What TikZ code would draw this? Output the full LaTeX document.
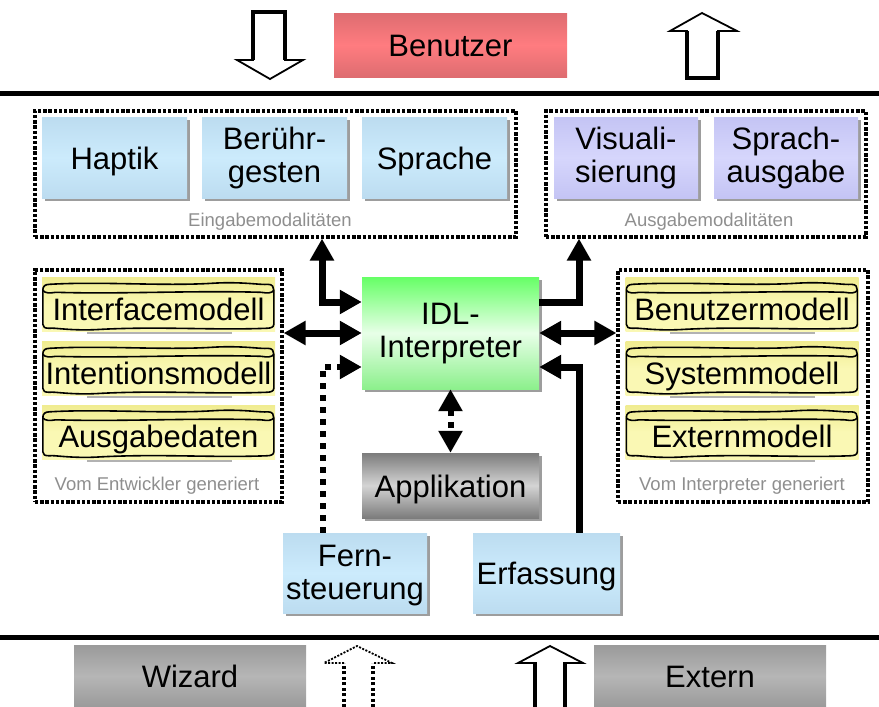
\documentclass[tikz,border=0pt]{standalone}
\usepackage{fontspec}
\setmainfont{Liberation Sans}
\usetikzlibrary{arrows.meta,shadows,calc}
\definecolor{blueE}{HTML}{BCDCF0}
\definecolor{blueM}{HTML}{CCEBFC}
\definecolor{lavE}{HTML}{C4C4F4}
\definecolor{lavM}{HTML}{D6D6FC}
\definecolor{redE}{HTML}{DE6C70}
\definecolor{redM}{HTML}{FF7C80}
\definecolor{grnT}{HTML}{66FF66}
\definecolor{grnM}{HTML}{E8FFE8}
\definecolor{grnB}{HTML}{8CF08C}
\definecolor{grayT}{HTML}{7C7C7C}
\definecolor{grayM}{HTML}{D4D4D4}
\definecolor{grayE}{HTML}{9A9A9A}
\definecolor{grayL}{HTML}{B6B6B6}
\definecolor{yelT}{HTML}{F0EC90}
\definecolor{yelM}{HTML}{FAF8B4}
\definecolor{lblgray}{HTML}{8E8E8E}
\newcommand{\tx}[2][5pt]{\raisebox{-#1}[\height][\depth]{\begin{tabular}{@{}c@{}}#2\end{tabular}}}
\begin{document}
\begin{tikzpicture}[x=1pt,y=-1pt,
  base/.style={inner sep=0pt, font=\fontsize{31}{33}\selectfont},
  shad/.style={drop shadow={shadow xshift=2.5pt,shadow yshift=-2.5pt,fill=black!55,opacity=.7}},
  bluebox/.style={base, shad, top color=blueE, bottom color=blueE, middle color=blueM},
  lavbox/.style={base, shad, top color=lavE, bottom color=lavE, middle color=lavM},
  redbox/.style={base, top color=redE, bottom color=redE, middle color=redM},
  grnbox/.style={base, shad, top color=grnT, bottom color=grnB, middle color=grnM},
  appbox/.style={base, shad, top color=grayT, bottom color=grayT, middle color=grayM},
  extbox/.style={base, top color=grayE, bottom color=grayE, middle color=grayL},
  model/.style={base, top color=yelT, bottom color=yelM, middle color=yelM, minimum width=233pt, minimum height=54pt},
  dframe/.style={draw, line width=3.2pt, dash pattern=on 3.4pt off 1.8pt, inner sep=0pt},
  glabel/.style={inner sep=0pt, text=lblgray, font=\fontsize{18.5}{20}\selectfont},
  scrollline/.style={line width=1.6pt, line join=round},
  >={Triangle[width=23pt,length=22pt]},
  arr/.style={line width=7pt, line join=miter},
  dotarr/.style={line width=6pt, dash pattern=on 6pt off 6pt},
  hollow/.style={draw, fill=white, line width=1.8pt, line join=miter},
  hshaft/.style={line width=3.6pt, line join=miter},
  sepline/.style={line width=5pt}
]
\useasboundingbox (0,0) rectangle (879,707);

% separator lines
\draw[sepline] (0,93.5) -- (879,93.5);
\draw[sepline] (0,637) -- (879,637);

% user and hollow arrows on top
\node[redbox, minimum width=233pt, minimum height=64pt] (ben) at (450.5,45) {\tx{Benutzer}};
\draw[hollow] (253,12) -- (285,12) -- (285,60) -- (303,60) -- (270,79) -- (237,60) -- (253,60) -- cycle;
\draw[hshaft] (253,60) -- (253,12) -- (285,12) -- (285,60);
\draw[hollow] (687,78) -- (718,78) -- (718,31) -- (737,31) -- (702,13) -- (670,31) -- (687,31) -- cycle;
\draw[hshaft] (687,31) -- (687,78) -- (718,78) -- (718,31);

% frames
\node[dframe, minimum width=481pt, minimum height=126pt] (ein) at (275.5,174) {};
\node[dframe, minimum width=320pt, minimum height=126pt] (aus) at (706,174) {};
\node[dframe, minimum width=247pt, minimum height=232pt] (lbox) at (158.5,386) {};
\node[dframe, minimum width=250pt, minimum height=232pt] (rbox) at (743,386) {};

% input modalities
\node[bluebox, minimum width=145pt, minimum height=81pt] (hap) at (114.5,157.5) {\tx{Haptik}};
\node[bluebox, minimum width=145pt, minimum height=81pt] (ber) at (274.5,157.5) {\tx[2pt]{Berühr-\\gesten}};
\node[bluebox, minimum width=145pt, minimum height=81pt] (spr) at (434.5,157.5) {\tx{Sprache}};
\node[glabel] (lein) at (270,222) {Eingabemodalitäten};

% output modalities
\node[lavbox, minimum width=144pt, minimum height=81pt] (vis) at (626,157.5) {\tx[2pt]{Visuali-\\sierung}};
\node[lavbox, minimum width=144pt, minimum height=81pt] (sau) at (786,157.5) {\tx[2pt]{Sprach-\\ausgabe}};
\node[glabel] (laus) at (709,222) {Ausgabemodalitäten};

% models
\node[model] (m1) at (158.5,304.5) {\tx[9pt]{Interfacemodell}};
\node[model] (m2) at (158.5,368.5) {\tx[9pt]{Intentionsmodell}};
\node[model] (m3) at (158.5,432) {\tx[9pt]{Ausgabedaten}};
\node[model] (m4) at (742,304.5) {\tx[9pt]{Benutzermodell}};
\node[model] (m5) at (742,368.5) {\tx[9pt]{Systemmodell}};
\node[model] (m6) at (742,432) {\tx[9pt]{Externmodell}};
\foreach \n in {m1,m2,m3,m4,m5,m6}{
  \begin{scope}[shift={(\n.north west)}]
    \draw[black!30, line width=2pt] (45,56) -- (190,56);
    \draw[scrollline] (1,13) .. controls (1,9) and (3,7) .. (8,7)
      .. controls (60,4) and (120,9) .. (170,6)
      .. controls (200,4) and (220,8) .. (226,7)
      .. controls (231,7) and (232,10) .. (232,13)
      -- (232,47)
      .. controls (232,50) and (229,51) .. (224,51)
      .. controls (170,53) and (120,49) .. (60,52)
      .. controls (30,54) and (12,50) .. (8,51)
      .. controls (3,51) and (1,50) .. (1,47) -- cycle;
    \draw[scrollline] (1,13) .. controls (3,16) and (8,16) .. (14,15)
      .. controls (80,17) and (150,13) .. (219,15)
      .. controls (226,16) and (230,16) .. (232,13);
  \end{scope}
}
\node[glabel] (llb) at (157,486) {Vom Entwickler generiert};
\node[glabel] (lrb) at (742,486) {Vom Interpreter generiert};

% interpreter and application
\node[grnbox, minimum width=177pt, minimum height=112pt] (idl) at (450.5,333) {\tx[1pt]{IDL-\\Interpreter}};
\node[appbox, minimum width=177pt, minimum height=65pt] (app) at (450.5,485.5) {\tx{Applikation}};

% remote control and capture
\node[bluebox, minimum width=144pt, minimum height=80pt] (fern) at (355,573) {\tx[3pt]{Fern-\\steuerung}};
\node[bluebox, minimum width=147pt, minimum height=80pt] (erf) at (546.5,573) {\tx{Erfassung}};

% bottom boxes
\node[extbox, minimum width=232pt, minimum height=62pt] (wiz) at (190,676) {\tx{Wizard}};
\node[extbox, minimum width=232pt, minimum height=62pt] (ext) at (710,676) {\tx{Extern}};

% bottom hollow arrows
\draw[hollow, dash pattern=on 2pt off 1.5pt] (344,663) -- (324,663) -- (357,646) -- (392,663) -- (373,663);
\draw[hshaft, dash pattern=on 3pt off 2.5pt] (344,707) -- (344,663);
\draw[hshaft, dash pattern=on 3pt off 2.5pt] (373,707) -- (373,663);
\draw[hollow] (535,663) -- (518,663) -- (550,646) -- (583,663) -- (565,663);
\draw[hshaft] (535,707) -- (535,662);
\draw[hshaft] (565,707) -- (565,662);

% helper coordinates
\coordinate (xE) at (322,0);
\coordinate (xA) at (579,0);
\coordinate (xF) at (323,0);
\coordinate (xR) at (579,0);

% connectors
\draw[arr, <->] ([yshift=31pt]idl.west) -| (ein.south -| xE);
\draw[arr, ->] ([yshift=31pt]idl.east) -| (aus.south -| xA);
\draw[arr, <->] (idl.west) -- (idl.west -| lbox.east);
\draw[arr, <->] (idl.east) -- (idl.east -| rbox.west);
\draw[dotarr, ->] (fern.north -| xF) |- ([yshift=-34pt]idl.west);
\draw[arr, ->] (erf.north -| xR) |- ([yshift=-34pt]idl.east);
\draw[dotarr, <->] (idl.south) -- (app.north);
\end{tikzpicture}
\end{document}
